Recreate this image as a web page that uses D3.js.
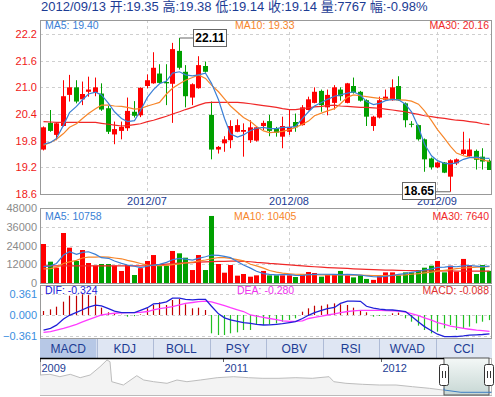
<!DOCTYPE html>
<html>
<head>
<meta charset="utf-8">
<script src="https://cdn.jsdelivr.net/npm/d3@7"></script>
<style>
  body { margin: 0; background: #fff; }
  svg { display: block; font-family: Arial, "Liberation Sans", "Noto Sans CJK SC", sans-serif; }
</style>
</head>
<body>
<script>
// ---- daily candles, 2012/06 .. 2012/09/13 ----
const openP  = [19.60,20.20,19.93,20.13,20.83,21.00,20.73,20.90,20.88,20.86,20.53,19.94,20.02,20.08,20.45,20.37,21.03,21.09,21.31,21.12,
                21.08,21.82,21.35,20.77,20.98,21.48,20.38,19.60,19.74,19.81,20.00,20.00,19.81,19.80,20.13,20.24,20.08,19.89,20.00,20.22,
                20.15,20.49,20.65,20.92,20.55,20.65,20.95,20.65,21.03,20.90,20.71,20.13,20.32,20.72,20.71,21.03,20.64,20.18,20.15,19.83,
                19.40,19.20,19.31,18.99,19.29,19.50,19.45,19.57,19.44,19.35];
const highP  = [20.12,20.49,20.20,21.16,21.28,21.16,21.13,21.24,21.22,21.09,20.58,20.23,20.23,20.77,20.69,21.00,21.29,21.79,21.52,21.52,
                22.00,22.11,21.50,21.09,21.70,21.58,20.68,19.68,19.90,20.26,20.28,20.19,20.26,20.11,20.25,20.38,20.11,20.34,20.49,20.41,
                20.60,20.79,21.00,20.95,20.95,21.05,21.00,21.10,21.22,20.92,20.73,20.36,20.79,20.95,21.18,21.25,20.66,20.24,20.16,19.85,
                19.42,19.33,19.32,19.38,19.40,20.00,19.85,19.60,19.63,19.38];
const lowP   = [19.58,20.00,19.81,20.12,20.68,20.64,20.60,20.79,20.80,20.47,19.95,19.72,19.83,20.02,20.32,20.33,20.98,21.08,21.08,20.60,
                20.20,21.40,20.55,20.60,20.97,21.33,19.38,19.51,19.55,19.63,19.99,19.44,19.75,19.78,20.04,19.90,19.89,19.63,19.93,20.00,
                20.14,20.48,20.64,20.45,20.37,20.50,20.70,20.64,20.86,20.68,20.13,20.02,20.30,20.70,20.70,20.70,20.10,20.10,19.80,19.10,
                19.15,19.18,19.07,18.65,19.25,19.48,19.44,19.15,19.15,19.14];
const closeP = [20.10,20.02,20.19,20.80,21.00,20.68,20.85,20.95,21.00,20.50,20.00,20.06,20.11,20.47,20.36,20.99,21.16,21.44,21.10,21.09,
                21.86,21.44,20.80,21.07,21.50,21.35,19.60,19.66,19.83,20.13,20.15,20.04,20.10,20.10,20.20,20.02,19.98,20.13,20.11,20.10,
                20.55,20.73,20.90,20.60,20.83,21.00,20.80,21.09,20.88,20.70,20.34,20.34,20.71,20.79,21.00,20.71,20.26,20.16,19.83,19.38,
                19.20,19.31,19.08,19.36,19.38,19.60,19.60,19.37,19.33,19.14];
const volume = [24960,13650,9800,32000,22600,14080,21100,12800,11100,12160,12160,11100,7700,11500,5120,9500,14080,17900,11500,11100,
                20500,19000,16200,8300,17900,8300,42900,12160,6600,11500,4700,5760,4050,4900,7700,4900,4900,4900,4900,3840,
                5760,7040,6400,4050,5100,5100,7700,4900,3600,5100,2600,2000,4300,6800,6800,4900,6800,6800,8300,9800,
                11100,14100,6800,11100,7250,15400,11500,5760,11500,7767];

// ---- price moving averages ----
const ma5  = [19.72,19.76,19.85,20.15,20.43,20.57,20.72,20.85,20.89,20.83,20.64,20.45,20.30,20.23,20.25,20.48,20.78,20.95,21.08,21.14,
              21.32,21.35,21.28,21.26,21.28,21.32,21.09,20.72,20.30,19.95,19.88,19.93,20.03,20.08,20.10,20.07,20.07,20.10,20.10,20.12,
              20.30,20.45,20.58,20.66,20.73,20.80,20.83,20.87,20.90,20.82,20.68,20.61,20.64,20.70,20.73,20.72,20.62,20.45,20.10,19.72,
              19.46,19.35,19.29,19.28,19.30,19.38,19.42,19.43,19.41,19.40];
const ma10 = [19.70,19.76,19.83,19.96,20.10,20.18,20.30,20.41,20.52,20.60,20.60,20.58,20.57,20.55,20.51,20.52,20.58,20.62,20.66,20.85,
              20.98,21.08,21.16,21.22,21.28,21.20,21.05,20.90,20.74,20.58,20.44,20.32,20.23,20.12,20.02,19.98,19.99,20.01,20.05,20.10,
              20.17,20.24,20.36,20.42,20.47,20.52,20.63,20.78,20.83,20.81,20.79,20.77,20.75,20.74,20.73,20.72,20.71,20.69,20.62,20.47,
              20.25,20.05,19.85,19.67,19.52,19.46,19.43,19.40,19.37,19.33];
const ma30 = [20.23,20.22,20.21,20.21,20.21,20.21,20.21,20.21,20.21,20.19,20.17,20.15,20.13,20.14,20.16,20.18,20.23,20.26,20.30,20.35,
              20.40,20.45,20.50,20.55,20.60,20.65,20.66,20.66,20.66,20.66,20.66,20.65,20.63,20.61,20.59,20.57,20.55,20.52,20.50,20.50,
              20.52,20.54,20.56,20.57,20.59,20.60,20.58,20.57,20.56,20.55,20.55,20.54,20.53,20.51,20.49,20.47,20.45,20.42,20.39,20.36,
              20.34,20.32,20.30,20.28,20.26,20.25,20.23,20.21,20.18,20.16];

// ---- volume moving averages ----
const volMa5  = [10450,11000,12500,17900,20000,18300,19600,20000,18300,16200,15800,14100,12600,11500,10700,9800,10700,11500,11900,13200,
                 14900,15800,15300,14700,15800,16800,17900,17700,17000,16200,13600,11500,9500,7500,6000,5500,5200,5300,5300,4900,
                 4800,5300,5500,5600,5600,5500,5400,5500,5400,5100,4500,4000,3900,4200,4800,5500,6000,6800,7500,8300,
                 9000,10000,10200,10600,10400,11000,11200,10800,10500,10758];
const volMa10 = [9000,9200,10000,12500,13500,14500,16000,16500,16500,16800,16500,16000,15500,14500,13500,12500,11500,11200,11100,11300,
                 11700,12200,12800,13300,14000,14700,15500,16300,16200,15800,15000,14200,12000,11000,9500,8000,7000,6300,5900,5600,
                 5500,5400,5300,5200,5200,5200,5200,5200,5100,5000,4900,4800,4800,4800,4900,5000,5200,5600,6000,6500,
                 7000,7600,8100,8600,9200,9600,9900,10100,10300,10405];
const volMa30 = [11000,11000,11000,11000,11000,11000,11000,11000,11000,11000,11000,11000,11000,11000,11000,11000,11200,11500,11800,12100,
                 12400,12700,12900,13100,13300,13500,13700,13800,13900,14000,14000,13800,13600,13200,12900,12500,12200,11900,11600,11300,
                 11000,10700,10400,10100,9900,9700,9500,9300,9100,8900,8700,8500,8400,8300,8200,8100,8000,7900,7850,7800,
                 7750,7700,7700,7700,7650,7650,7650,7650,7640,7640];

// ---- MACD ----
const dif = [-0.258,-0.229,-0.175,-0.070,-0.005,0.045,0.090,0.135,0.170,0.158,0.110,0.065,0.040,0.040,0.040,0.080,0.125,0.190,0.200,0.225,
             0.290,0.290,0.270,0.260,0.270,0.270,0.150,0.020,-0.050,-0.085,-0.110,-0.130,-0.145,-0.160,-0.172,-0.170,-0.160,-0.150,-0.130,-0.115,
             -0.060,-0.005,0.040,0.080,0.110,0.130,0.200,0.240,0.240,0.235,0.150,0.120,0.100,0.090,0.086,0.075,0.060,-0.020,-0.120,-0.200,
             -0.270,-0.330,-0.372,-0.372,-0.370,-0.360,-0.345,-0.340,-0.335,-0.324];
const dea = [-0.300,-0.285,-0.260,-0.230,-0.200,-0.160,-0.120,-0.080,-0.035,0.000,0.020,0.030,0.037,0.040,0.040,0.045,0.060,0.090,0.110,0.125,
             0.145,0.175,0.200,0.215,0.230,0.240,0.225,0.190,0.160,0.125,0.090,0.060,0.000,-0.020,-0.040,-0.060,-0.080,-0.100,-0.110,-0.110,
             -0.100,-0.060,-0.040,-0.020,0.000,0.020,0.040,0.060,0.070,0.080,0.080,0.080,0.080,0.075,0.070,0.065,0.050,0.025,-0.010,-0.050,
             -0.090,-0.130,-0.160,-0.190,-0.210,-0.230,-0.245,-0.260,-0.270,-0.280];
const macdBar = [0.069,0.097,0.143,0.229,0.332,0.332,0.355,0.343,0.332,0.126,0.046,0.017,0.004,-0.029,-0.020,0.010,0.115,0.172,0.218,0.172,
                 0.258,0.275,0.183,0.115,0.126,0.086,-0.315,-0.344,-0.344,-0.315,-0.298,-0.258,-0.258,-0.172,-0.172,-0.160,-0.143,-0.115,-0.086,-0.057,
                 0.057,0.115,0.160,0.160,0.183,0.200,0.183,0.172,0.126,0.069,0.046,-0.029,-0.017,-0.011,0.029,0.040,-0.057,-0.115,-0.183,-0.258,
                 -0.315,-0.286,-0.229,-0.172,-0.258,-0.229,-0.200,-0.143,-0.115,-0.088];

// ---- axes / labels ----
const priceTicks = [18.6, 19.2, 19.8, 20.4, 21.0, 21.6, 22.2];
const volTicks = [0, 12000, 24000, 36000, 48000];
const macdTicks = [-0.361, 0, 0.361];
const monthStart = [16, 38, 61];
const monthLabels = ["2012/07", "2012/08", "2012/09"];
const tabNames = ["MACD", "KDJ", "BOLL", "PSY", "OBV", "RSI", "WVAD", "CCI"];

// ---- long-range navigator ----
const navDates = ["2009-11-03","2009-11-26","2009-12-19","2010-01-12","2010-02-04","2010-02-27","2010-03-22","2010-04-07","2010-04-14","2010-04-18",
                  "2010-05-15","2010-06-15","2010-07-01","2010-07-24","2010-08-24","2010-09-16","2010-10-09","2010-11-09","2010-12-18","2011-01-25",
                  "2011-03-01","2011-04-01","2011-05-10","2011-06-18","2011-07-26","2011-09-03","2011-09-14","2011-10-12","2011-11-19","2011-12-28",
                  "2012-02-05","2012-03-14","2012-04-22","2012-05-23","2012-07-04","2012-09-13"];
const navLevel = [20,20.7,18.3,20.7,17.3,20,28.3,35,33.3,13.3,10,19.3,15,13.3,11.7,15,13.3,15,17.3,18.3,
                  17.3,16.7,16.7,17.3,16.7,18.3,13.3,11.7,10.7,10,10,8.3,6.7,5,2.7,2.7];
const navYears = [["2009-11-03","2009"], ["2011-01-01","2011"], ["2012-01-01","2012"]];

const W = 495, H = 397;
const L = 40, R = 492;
const RED = "#ff0000", GREEN = "#00a000";
const C_MA5 = "#3a7fd6", C_MA10 = "#f7862a", C_MA30 = "#f02828";
const LEG = 10.5;

const svg = d3.select("body").append("svg").attr("width", W).attr("height", H);

const x = d3.scaleBand().domain(d3.range(openP.length)).range([L, R])
  .paddingInner(0.3).paddingOuter(0.15);
const cx = (i) => Math.round(x(i) + x.bandwidth() / 2);

const y = d3.scaleLinear().domain([18.6, 22.515]).range([194, 20]);
const yv = d3.scaleLinear().domain([0, 48000]).range([283, 208]);
const ym = d3.scaleLinear().domain([-0.361, 0.361]).range([336, 294]);

const isUp = (i) => closeP[i] >= openP[i];

// header
svg.append("text").attr("x", 41).attr("y", 11).attr("font-size", 13).attr("fill", "#1c3c94")
  .text("2012/09/13 开:19.35 高:19.38 低:19.14 收:19.14 量:7767 幅:-0.98%");

// panel grids and frames
function hGrid(scale, ticks, y0, y1) {
  svg.append("g").selectAll("line").data(ticks.filter((t) => {
    const py = scale(t); return py > y0 + 1 && py < y1 - 1;
  })).join("line")
    .attr("x1", L).attr("x2", R)
    .attr("y1", (d) => Math.round(scale(d)) + 0.5).attr("y2", (d) => Math.round(scale(d)) + 0.5)
    .attr("stroke", "#cfcfcf").attr("stroke-dasharray", "3,3");
}
function vGrid(y0, y1) {
  svg.append("g").selectAll("line").data(monthStart).join("line")
    .attr("x1", (d) => cx(d) + 0.5).attr("x2", (d) => cx(d) + 0.5)
    .attr("y1", y0).attr("y2", y1)
    .attr("stroke", "#cfcfcf").attr("stroke-dasharray", "3,3");
}
function frame(y0, y1) {
  svg.append("rect").attr("x", L + 0.5).attr("y", y0 + 0.5).attr("width", R - L - 1).attr("height", y1 - y0)
    .attr("fill", "none").attr("stroke", "#999");
}

hGrid(y, priceTicks, 20, 194);
vGrid(20, 194);
hGrid(yv, volTicks, 208, 283);
vGrid(208, 283);
hGrid(ym, macdTicks, 285, 338);

// y labels
function yLabels(scale, ticks, fmt, color) {
  svg.append("g").selectAll("text").data(ticks).join("text")
    .attr("x", 37).attr("y", (d) => scale(d) + 4)
    .attr("text-anchor", "end").attr("font-size", 11).attr("fill", color)
    .text(fmt);
}
yLabels(y, priceTicks, d3.format(".1f"), "#f01818");
yLabels(yv, volTicks, d3.format("d"), "#8a8a8a");
yLabels(ym, macdTicks, d3.format(".3f"), "#3a8ee0");

// month labels
svg.append("g").selectAll("text").data(monthStart).join("text")
  .attr("x", (d) => cx(d)).attr("y", 205).attr("text-anchor", "middle")
  .attr("font-size", 11).attr("fill", "#1c3c94")
  .text((d, i) => monthLabels[i]);

// candles
const candles = svg.append("g").selectAll("g").data(openP).join("g");
candles.append("line")
  .attr("x1", (d, i) => cx(i) + 0.5).attr("x2", (d, i) => cx(i) + 0.5)
  .attr("y1", (d, i) => y(highP[i])).attr("y2", (d, i) => y(lowP[i]))
  .attr("stroke", (d, i) => isUp(i) ? RED : GREEN);
candles.append("rect")
  .attr("x", (d, i) => cx(i) - 2).attr("width", 5)
  .attr("y", (d, i) => y(Math.max(openP[i], closeP[i])))
  .attr("height", (d, i) => Math.max(1, Math.abs(y(openP[i]) - y(closeP[i]))))
  .attr("fill", (d, i) => isUp(i) ? RED : GREEN);

// lines helper
function drawLine(values, scale, color, w) {
  svg.append("path").datum(values)
    .attr("fill", "none").attr("stroke", color).attr("stroke-width", w || 1.2)
    .attr("d", d3.line().x((d, i) => cx(i) + 0.5).y((d) => scale(d)));
}
drawLine(ma30, y, C_MA30);
drawLine(ma10, y, C_MA10);
drawLine(ma5, y, C_MA5);

// volume bars
svg.append("g").selectAll("rect").data(volume).join("rect")
  .attr("x", (d, i) => cx(i) - 2).attr("width", 5)
  .attr("y", (d) => yv(d)).attr("height", (d) => yv(0) - yv(d))
  .attr("fill", (d, i) => isUp(i) ? RED : GREEN);
drawLine(volMa30, yv, C_MA30);
drawLine(volMa10, yv, C_MA10);
drawLine(volMa5, yv, C_MA5);

// MACD histogram
svg.append("g").selectAll("line").data(macdBar).join("line")
  .attr("x1", (d, i) => cx(i) + 0.5).attr("x2", (d, i) => cx(i) + 0.5)
  .attr("y1", ym(0)).attr("y2", (d) => ym(d))
  .attr("stroke", (d) => d >= 0 ? "#c00000" : "#22c022").attr("stroke-width", 1.2);
drawLine(dea, ym, "#ff3cff", 1.3);
drawLine(dif, ym, "#2020d8", 1.3);

frame(20, 194);
frame(208, 283);
frame(285, 338);

// legends
function legendRow(yy, items) {
  items.forEach(([txt, color, anchor, xx]) => {
    svg.append("text").attr("x", xx).attr("y", yy).attr("text-anchor", anchor)
      .attr("font-size", LEG).attr("fill", color).text(txt);
  });
}
legendRow(29, [["MA5: 19.40", C_MA5, "start", 45], ["MA10: 19.33", C_MA10, "start", 235], ["MA30: 20.16", C_MA30, "end", 489]]);
legendRow(220, [["MA5: 10758", C_MA5, "start", 45], ["MA10: 10405", C_MA10, "start", 234], ["MA30: 7640", C_MA30, "end", 489]]);
legendRow(294, [["DIF: -0.324", "#2020d8", "start", 45], ["DEA: -0.280", "#ee33ee", "start", 237], ["MACD: -0.088", "#e03030", "end", 489]]);

// high / low callouts
function callout(i, price, bx, by) {
  const px = cx(i) + 0.5, py = y(price);
  svg.append("path").attr("d", `M${px},${py}H${bx}`).attr("stroke", "#666").attr("fill", "none");
  const g = svg.append("g");
  g.append("rect").attr("x", bx + 0.5).attr("y", by + 0.5).attr("width", 33).attr("height", 17)
    .attr("fill", "#fff").attr("stroke", "#666");
  g.append("text").attr("x", bx + 17).attr("y", by + 13).attr("text-anchor", "middle")
    .attr("font-size", 12).attr("font-weight", "bold").attr("fill", "#000").text(price.toFixed(2));
}
const hiIdx = d3.maxIndex(highP), loIdx = d3.minIndex(lowP);
callout(hiIdx, highP[hiIdx], 193, 29);
callout(loIdx, lowP[loIdx], 402, 182);

// tabs
const tx = d3.scaleBand().domain(tabNames).range([L, R]);
const tabs = svg.append("g");
tabs.append("rect").attr("x", L).attr("y", 339).attr("width", R - L).attr("height", 19).attr("fill", "#dfe6f3");
tabs.selectAll("rect.tab").data(tabNames).join("rect").attr("class", "tab")
  .attr("x", (d) => tx(d)).attr("y", 339).attr("width", tx.bandwidth()).attr("height", 19)
  .attr("fill", (d, i) => i === 0 ? "#b7c8e6" : "#dfe6f3");
tabs.selectAll("line").data(tabNames.slice(1)).join("line")
  .attr("x1", (d) => Math.round(tx(d)) + 0.5).attr("x2", (d) => Math.round(tx(d)) + 0.5)
  .attr("y1", 339).attr("y2", 358).attr("stroke", "#aebbd6");
tabs.selectAll("text").data(tabNames).join("text")
  .attr("x", (d) => tx(d) + tx.bandwidth() / 2).attr("y", 353).attr("text-anchor", "middle")
  .attr("font-size", 12).attr("fill", "#1c3c94").text((d) => d);

// navigator
const parse = d3.timeParse("%Y-%m-%d");
const nx = d3.scaleTime().domain([parse("2009-11-03"), parse("2012-09-14")]).range([L, R]);
const ny = d3.scaleLinear().domain([0, 40]).range([395, 355]);
const navData = navDates.map((d, i) => ({ date: parse(d), v: navLevel[i] }));
svg.append("rect").attr("x", L + 0.5).attr("y", 358.5).attr("width", R - L - 1).attr("height", 37)
  .attr("fill", "#fff").attr("stroke", "#bbb");
svg.append("path").datum(navData)
  .attr("fill", "#f3f3f3")
  .attr("d", d3.area().x((d) => nx(d.date)).y0(395).y1((d) => ny(d.v)));
svg.append("path").datum(navData)
  .attr("fill", "none").attr("stroke", "#bdbdbd")
  .attr("d", d3.line().x((d) => nx(d.date)).y((d) => ny(d.v)));
navYears.forEach(([d, label]) => {
  const px = Math.round(nx(parse(d))) + 0.5;
  svg.append("line").attr("x1", px).attr("x2", px).attr("y1", 358).attr("y2", 362).attr("stroke", "#666");
  svg.append("text").attr("x", px + 1).attr("y", 372).attr("font-size", 11).attr("fill", "#1c3c94").text(label);
});
const selX0 = 444, selX1 = 489;
const grad = svg.append("defs").append("linearGradient").attr("id", "selg").attr("x1", 0).attr("x2", 0).attr("y1", 0).attr("y2", 1);
grad.append("stop").attr("offset", 0).attr("stop-color", "#f4f8f7");
grad.append("stop").attr("offset", 1).attr("stop-color", "#c7d7d4");
svg.append("rect").attr("x", selX0).attr("y", 358).attr("width", selX1 - selX0).attr("height", 37)
  .attr("fill", "url(#selg)").attr("stroke", "#555");
svg.append("path").datum(navData.filter((d) => nx(d.date) >= selX0 - 20))
  .attr("fill", "none").attr("stroke", "#3f7fc4")
  .attr("d", d3.line().x((d) => Math.max(selX0, nx(d.date))).y((d) => ny(d.v)));
svg.append("line").attr("x1", L).attr("x2", selX0).attr("y1", 358.5).attr("y2", 358.5)
  .attr("stroke", "#000").attr("stroke-width", 1.5);
[selX0, selX1].forEach((hx) => {
  const g = svg.append("g");
  g.append("rect").attr("x", hx - 4.5).attr("y", 364.5).attr("width", 9).attr("height", 21).attr("rx", 2)
    .attr("fill", "#fff").attr("stroke", "#333");
  g.append("line").attr("x1", hx - 1.5).attr("x2", hx - 1.5).attr("y1", 371).attr("y2", 378).attr("stroke", "#333");
  g.append("line").attr("x1", hx + 1.5).attr("x2", hx + 1.5).attr("y1", 371).attr("y2", 378).attr("stroke", "#333");
});
</script>
</body>
</html>
